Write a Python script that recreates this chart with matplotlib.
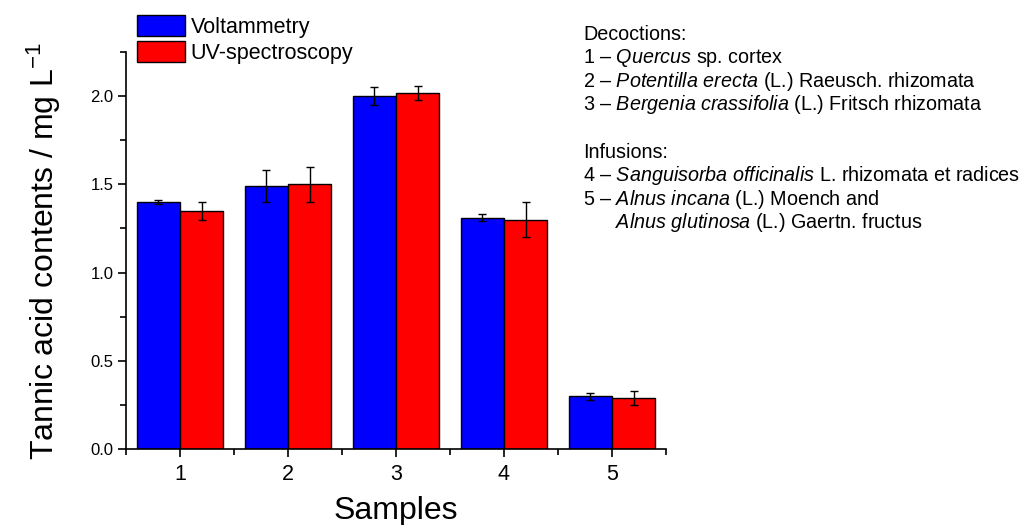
import numpy as np
import matplotlib.pyplot as plt
from matplotlib.patches import Patch
from matplotlib.ticker import MultipleLocator

plt.rcParams['font.family'] = ['Liberation Sans', 'DejaVu Sans']
plt.rcParams['mathtext.fontset'] = 'custom'
plt.rcParams['mathtext.rm'] = 'Liberation Sans'
plt.rcParams['mathtext.it'] = 'Liberation Sans:italic'
plt.rcParams['mathtext.bf'] = 'Liberation Sans:bold'

# data
samples = [1, 2, 3, 4, 5]
volt = [1.40, 1.49, 2.00, 1.31, 0.30]
volt_err = [0.01, 0.09, 0.05, 0.02, 0.02]
uv = [1.35, 1.50, 2.02, 1.30, 0.29]
uv_err = [0.05, 0.10, 0.04, 0.10, 0.04]
series_names = ['Voltammetry', 'UV-spectroscopy']

notes = [
    'Decoctions:',
    '1 \u2013 $\\it{Quercus}$ sp. cortex',
    '2 \u2013 $\\it{Potentilla\\ erecta}$ (L.) Raeusch. rhizomata',
    '3 \u2013 $\\it{Bergenia\\ crassifolia}$ (L.) Fritsch rhizomata',
    '',
    'Infusions:',
    '4 \u2013 $\\it{Sanguisorba\\ officinalis}$ L. rhizomata et radices',
    '5 \u2013 $\\it{Alnus\\ incana}$ (L.) Moench and',
    '      $\\it{Alnus\\ glutinosa}$ (L.) Gaertn. fructus',
]

fig = plt.figure(figsize=(10.23, 5.25), dpi=100)
ax = fig.add_axes([126/1023, 1-449/525, 540/1023, 397/525])

x = np.array(samples)
w = 0.4
ax.bar(x - w/2, volt, w, color='#0000ff', edgecolor='black', linewidth=1)
ax.bar(x + w/2, uv, w, color='#ff0000', edgecolor='black', linewidth=1)
ax.errorbar(x - w/2, volt, yerr=volt_err, fmt='none', ecolor='black',
            elinewidth=1, capsize=3.2, capthick=1)
ax.errorbar(x + w/2, uv, yerr=uv_err, fmt='none', ecolor='black',
            elinewidth=1, capsize=3.2, capthick=1)

ax.set_xlim(0.5, 5.5)
ax.set_ylim(0, 2.25)
ax.set_xticks(samples)
ax.xaxis.set_minor_locator(MultipleLocator(0.5))
ax.yaxis.set_major_locator(MultipleLocator(0.5))
ax.yaxis.set_minor_locator(MultipleLocator(0.25))
ax.yaxis.set_major_formatter(plt.FuncFormatter(lambda v, p: f'{v:.1f}'))
ax.spines['top'].set_visible(False)
ax.spines['right'].set_visible(False)
for s in ['left', 'bottom']:
    ax.spines[s].set_linewidth(1.2)
ax.tick_params(axis='both', which='both', direction='out', width=1.2)
ax.tick_params(axis='both', which='major', length=6)
ax.tick_params(axis='both', which='minor', length=4)
ax.tick_params(axis='x', labelsize=15.5, pad=5)
ax.tick_params(axis='y', labelsize=12, pad=3)

ax.set_xlabel('Samples', fontsize=23, labelpad=8)
ax.set_ylabel('Tannic acid contents / mg L$^{-1}$', fontsize=23, labelpad=20)

handles = [Patch(facecolor='#0000ff', edgecolor='black'),
           Patch(facecolor='#ff0000', edgecolor='black')]
fig.legend(handles, series_names, loc='upper left',
           bbox_to_anchor=(137/1023, 1-15/525), frameon=False, fontsize=15.5,
           handlelength=2.25, handleheight=1.15, labelspacing=0.12,
           handletextpad=0.25, borderpad=0, borderaxespad=0)

y0 = 39.5
for i, line in enumerate(notes):
    if line:
        fig.text(583/1023, 1 - (y0 + 23.6*i)/525, line, fontsize=14.2,
                 va='baseline', ha='left')

fig.savefig('out.png', dpi=100)
